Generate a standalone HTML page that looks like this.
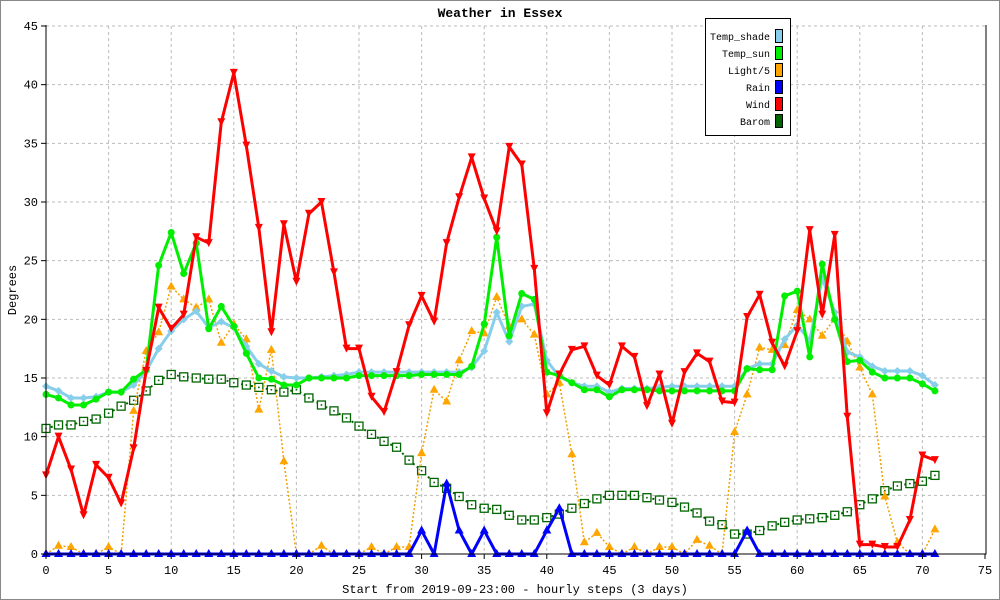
<!DOCTYPE html>
<html><head><meta charset="utf-8"><style>
body{margin:0;background:#fff}
svg{display:block;font-family:"Liberation Mono",monospace}
</style></head><body>
<svg id="c" width="1000" height="600" viewBox="0 0 1000 600">
<rect x="0.5" y="0.5" width="999" height="599" fill="#fff" stroke="#888"/>
<text x="500" y="17" text-anchor="middle" font-size="13" font-weight="bold">Weather in Essex</text>
<g id="grid"></g><g id="series"></g><g id="axes"></g>
<text x="515" y="593" text-anchor="middle" font-size="12">Start from 2019-09-23:00 - hourly steps (3 days)</text>
<text transform="translate(16,290) rotate(-90)" text-anchor="middle" font-size="12">Degrees</text>
<g id="legend">
<rect x="705.5" y="18.5" width="85" height="117" fill="#fff" stroke="#000"/>
</g>
</svg>
<script>
const xTicks=[0,5,10,15,20,25,30,35,40,45,50,55,60,65,70,75];
const yTicks=[0,5,10,15,20,25,30,35,40,45];
const tempShade=[14.3,13.9,13.3,13.3,13.4,13.8,13.8,14.4,15.6,17.5,19,20,20.7,19.3,19.8,19.3,17.7,16.2,15.6,15.1,15,15,15.1,15.2,15.3,15.5,15.5,15.5,15.5,15.5,15.5,15.5,15.5,15.5,15.9,17.3,20.6,18.1,21.1,21.3,16.5,15.1,14.6,14.3,14.3,13.8,14.1,14.1,14.1,14.2,14.3,14.3,14.3,14.3,14.3,14.3,15.8,16.2,16.2,18.3,19.5,18.2,23.5,20.6,17.2,16.8,16,15.6,15.6,15.6,15.2,14.4];
const tempSun=[13.6,13.3,12.7,12.7,13.2,13.8,13.8,14.9,15.7,24.6,27.4,23.9,26.5,19.2,21.1,19.4,17.1,15,14.9,14.4,14.4,15,15,15,15,15.2,15.2,15.2,15.2,15.2,15.3,15.3,15.3,15.3,16,19.6,27,18.6,22.2,21.7,15.5,15.2,14.6,14,14,13.4,14,14,14,13.9,13.9,13.9,13.9,13.9,13.9,13.9,15.8,15.7,15.7,22,22.4,16.8,24.7,20,16.4,16.5,15.5,15,15,15,14.5,13.9];
const light5=[0,0.7,0.6,0,0,0.6,0,12.2,17.3,18.9,22.8,21.7,21,21.7,18,19.6,18.3,12.3,17.4,7.9,0,0,0.7,0,0,0,0.6,0,0.6,0.6,8.6,14,13,16.5,19,18.8,21.9,19.4,20,18.7,13.6,14.6,8.5,1,1.8,0.6,0,0.6,0,0.6,0.6,0,1.2,0.7,0,10.4,13.6,17.6,17.4,17.8,20.8,20,18.6,20.1,18.1,15.9,13.6,4.9,1,0,0,2.1];
const rain=[0,0,0,0,0,0,0,0,0,0,0,0,0,0,0,0,0,0,0,0,0,0,0,0,0,0,0,0,0,0,2,0,6,2,0,2,0,0,0,0,2,3.9,0,0,0,0,0,0,0,0,0,0,0,0,0,0,2,0,0,0,0,0,0,0,0,0,0,0,0,0,0,0];
const wind=[6.7,10,7.2,3.3,7.6,6.5,4.3,9,15.6,21,19.2,20.4,27,26.5,36.8,41,34.8,27.8,18.9,28.1,23.2,29,30,24,17.5,17.5,13.4,12.1,15.5,19.5,22,19.8,26.5,30.4,33.8,30.3,27.5,34.7,33.2,24.3,12,15.3,17.4,17.7,15.2,14.4,17.7,16.8,12.6,15.3,11.1,15.5,17.1,16.4,13,12.9,20.2,22.1,18,16,19,27.6,20.4,27.2,11.7,0.8,0.8,0.6,0.6,2.9,8.4,8];
const barom=[10.7,11,11,11.3,11.5,12,12.6,13.1,13.9,14.8,15.3,15.1,15,14.9,14.9,14.6,14.4,14.2,14,13.8,14,13.3,12.7,12.2,11.6,10.9,10.2,9.6,9.1,8,7.1,6.1,5.6,4.9,4.2,3.9,3.8,3.3,2.9,2.9,3.1,3.4,3.9,4.3,4.7,5,5,5,4.8,4.6,4.4,4,3.5,2.8,2.5,1.7,1.7,2,2.4,2.7,2.9,3,3.1,3.3,3.6,4.2,4.7,5.4,5.8,6,6.2,6.7];

const NS="http://www.w3.org/2000/svg";
const X0=46,X1=985,Y0=554,Y1=26;
const xs=v=>X0+(X1-X0)*v/75, ys=v=>Y0-(Y0-Y1)*v/45;
function mk(t,a,p){const e=document.createElementNS(NS,t);for(const k in a)e.setAttribute(k,a[k]);p.appendChild(e);return e;}
const grid=document.getElementById('grid'),axes=document.getElementById('axes'),ser=document.getElementById('series'),leg=document.getElementById('legend');
xTicks.forEach(t=>{if(t>0&&t<75){const l=mk('line',{x1:xs(t),x2:xs(t),y1:Y1,y2:Y0,stroke:'#bbb','stroke-dasharray':'3,3'},grid);

}
const tk=mk('line',{x1:xs(t),x2:xs(t),y1:Y0,y2:Y0+5,stroke:'#000'},axes);


const tx=mk('text',{x:xs(t),y:Y0+20,'text-anchor':'middle','font-size':'12'},axes);tx.textContent=t;

});
yTicks.forEach(t=>{if(t>0){const l=mk('line',{x1:X0,x2:X1,y1:ys(t),y2:ys(t),stroke:'#bbb','stroke-dasharray':'3,3'},grid);

}
const tk=mk('line',{x1:X0-5,x2:X0,y1:ys(t),y2:ys(t),stroke:'#000'},axes);


const tx=mk('text',{x:X0-8,y:ys(t)+4,'text-anchor':'end','font-size':'12'},axes);tx.textContent=t;

});
const ax=mk('path',{d:`M${X0} ${Y1-1}V${Y0}H${X1+1}V${Y1-1}`,fill:'none',stroke:'#000'},axes);



function marker(kind,x,y,c,g){
 if(kind==='circle')mk('circle',{cx:x,cy:y,r:3.5,fill:c},g);
 else if(kind==='diamond')mk('path',{d:`M${x} ${y-4}L${x+4} ${y}L${x} ${y+4}L${x-4} ${y}Z`,fill:c},g);
 else if(kind==='up')mk('path',{d:`M${x} ${y-5}L${x+4.5} ${y+3}L${x-4.5} ${y+3}Z`,fill:c},g);
 else if(kind==='down')mk('path',{d:`M${x} ${y+4}L${x+4} ${y-4}L${x-4} ${y-4}Z`,fill:c},g);
 else if(kind==='square'){mk('rect',{x:x-4,y:y-4,width:8,height:8,fill:'#fff',stroke:c,'stroke-width':1.3},g);mk('rect',{x:x-0.8,y:y-0.8,width:1.6,height:1.6,fill:c},g);}
}
const defs=[
 {name:'Temp_shade',d:tempShade,c:'#87ceeb',w:3,dash:null,m:'diamond'},
 {name:'Temp_sun',d:tempSun,c:'#00ee00',w:3,dash:null,m:'circle'},
 {name:'Light/5',d:light5,c:'#ffa500',w:1.5,dash:'2,2',m:'up'},
 {name:'Rain',d:rain,c:'#0000ff',w:3,dash:null,m:'up'},
 {name:'Wind',d:wind,c:'#ff0000',w:3,dash:null,m:'down'},
 {name:'Barom',d:barom,c:'#006400',w:2,dash:'2,3',m:'square'}];
const order=[5,2,0,1,3,4];
order.forEach(i=>{const s=defs[i];
 const g=mk('g',{},ser);
 
 
 const pts=s.d.map((v,j)=>xs(j)+','+ys(v)).join(' ');
 const a={points:pts,fill:'none',stroke:s.name==='Light/5'?'#ffa500':s.c,'stroke-width':s.w,'stroke-linejoin':'round'};
 if(s.dash)a['stroke-dasharray']=s.dash;
 if(s.name==='Light/5')a.stroke='#f0a000';
 mk('polyline',a,g);
 s.d.forEach((v,j)=>marker(s.m,xs(j),ys(v),s.c,g));
});
defs.forEach((s,i)=>{const y=36+i*17;
 const t=mk('text',{x:770,y:y+4,'text-anchor':'end','font-size':'10'},leg);t.textContent=s.name;
 
 
 const r=mk('rect',{x:775.5,y:y-6.5,width:7,height:13,fill:s.c,stroke:'#000'},leg);
 
 
});
</script>
</body></html>
